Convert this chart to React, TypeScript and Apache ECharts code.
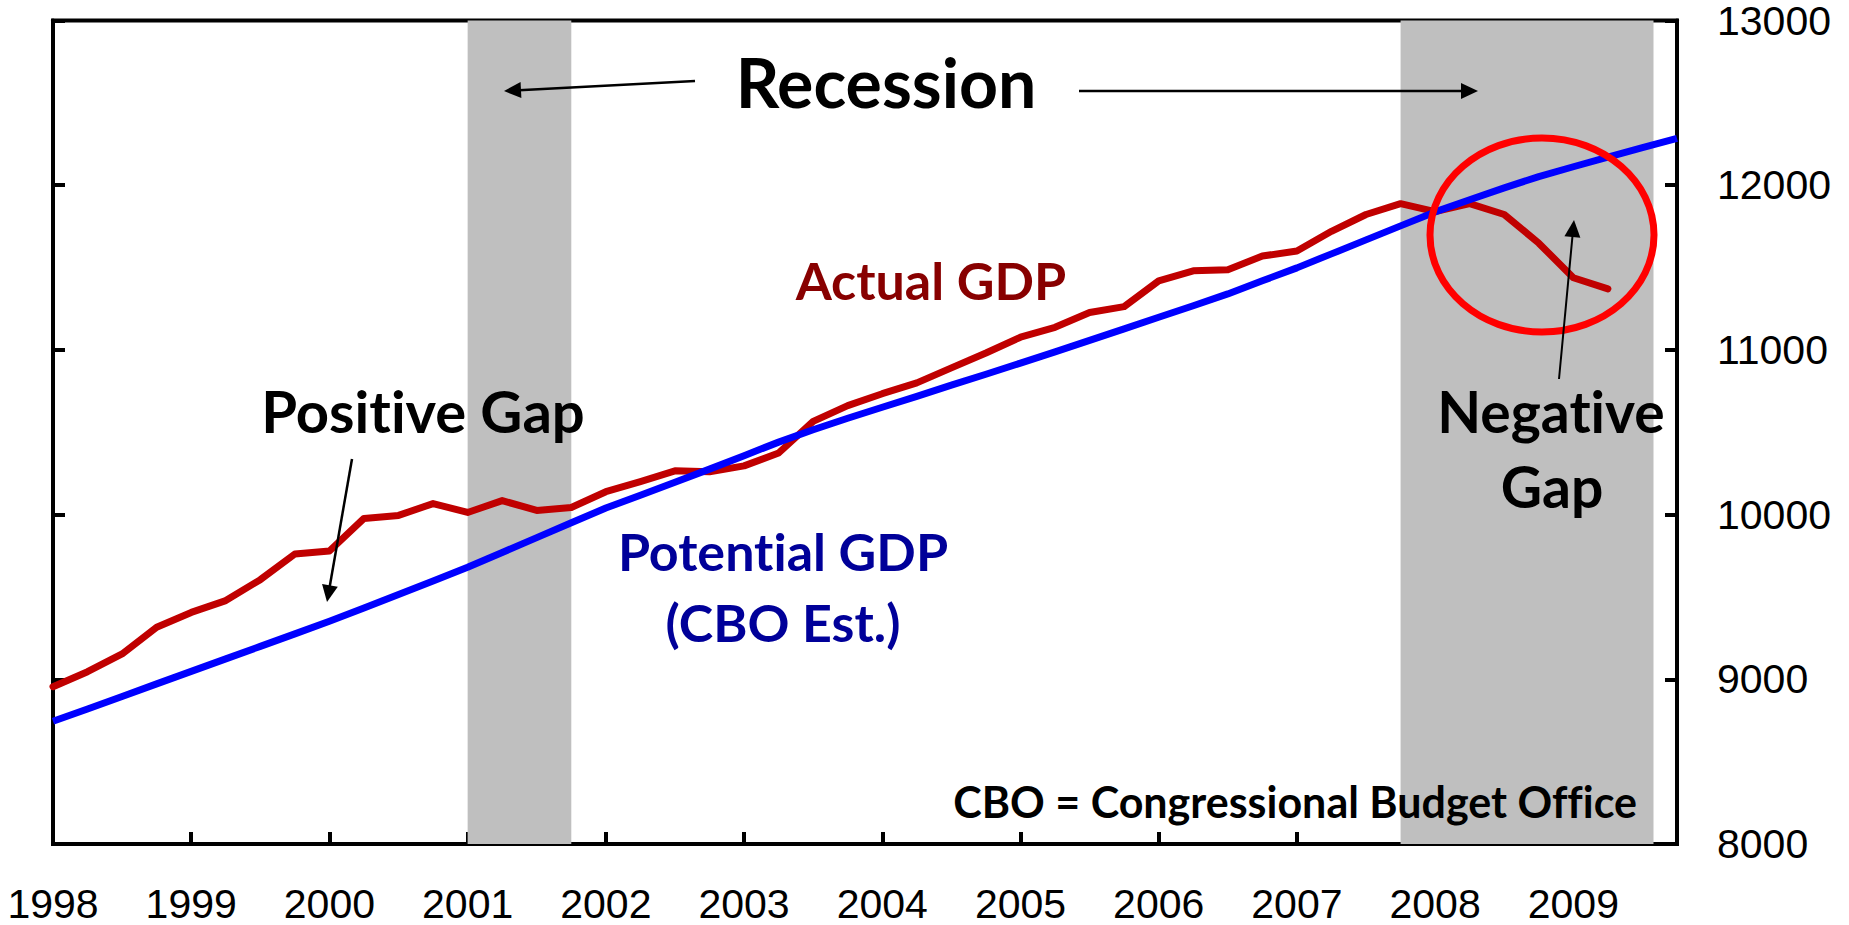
import React, { useEffect, useRef } from "react";
import * as echarts from "echarts";

// ---- Data ----
const quarters = [
  "1998Q1","1998Q2","1998Q3","1998Q4","1999Q1","1999Q2","1999Q3","1999Q4",
  "2000Q1","2000Q2","2000Q3","2000Q4","2001Q1","2001Q2","2001Q3","2001Q4",
  "2002Q1","2002Q2","2002Q3","2002Q4","2003Q1","2003Q2","2003Q3","2003Q4",
  "2004Q1","2004Q2","2004Q3","2004Q4","2005Q1","2005Q2","2005Q3","2005Q4",
  "2006Q1","2006Q2","2006Q3","2006Q4","2007Q1","2007Q2","2007Q3","2007Q4",
  "2008Q1","2008Q2","2008Q3","2008Q4","2009Q1","2009Q2","2009Q3","2009Q4",
];

const actualGDP = [
  8955, 9046, 9154, 9316, 9406, 9478, 9605, 9761,
  9779, 9977, 9995, 10067, 10013, 10085, 10025, 10043,
  10139, 10200, 10266, 10260, 10296, 10374, 10566, 10662,
  10734, 10800, 10891, 10981, 11077, 11137, 11227, 11263,
  11419, 11480, 11486, 11570, 11600, 11720, 11822, 11888,
  11840, 11888, 11822, 11648, 11438, 11371,
];

const potentialGDP = [
  8745, 8820, 8896, 8972, 9048, 9124, 9200, 9276,
  9352, 9433, 9515, 9597, 9680, 9770, 9860, 9950,
  10040, 10118, 10196, 10276, 10358, 10440, 10515, 10585,
  10652, 10718, 10786, 10852, 10920, 10988, 11058, 11128,
  11198, 11268, 11340, 11420, 11498, 11583, 11668, 11753,
  11838, 11912, 11984, 12052, 12112, 12170, 12228, 12285,
];

const recessions = [
  [2001.0, 2001.75],
  [2007.75, 2009.58],
];

const yearTicks = { min: 1998, max: 2009.75, interval: 1 };
const valueTicks = { min: 8000, max: 13000, interval: 1000 };

// quarter label -> decimal year position on the value axis
const qPos = (q: string) => Number(q.slice(0, 4)) + (Number(q.slice(5)) - 1) / 4;

const BOLD = "Lato";

function arrow(x1: number, y1: number, x2: number, y2: number, w = 2.5, head = 17, half = 8) {
  const dx = x2 - x1, dy = y2 - y1;
  const L = Math.hypot(dx, dy);
  const ux = dx / L, uy = dy / L;
  const bx = x2 - ux * head, by = y2 - uy * head;
  const px = -uy, py = ux;
  return [
    { type: "line", z: 100, shape: { x1, y1, x2: bx + ux * 2, y2: by + uy * 2 }, style: { stroke: "#000", lineWidth: w } },
    {
      type: "polygon", z: 100,
      shape: { points: [[x2, y2], [bx + px * half, by + py * half], [bx - px * half, by - py * half]] },
      style: { fill: "#000" },
    },
  ];
}

function label(text: string, x: number, y: number, size: number, color: string, align = "center") {
  return {
    type: "text", z: 100, x, y,
    style: { text, fill: color, font: `bold ${size}px ${BOLD}`, align, verticalAlign: "middle" },
  };
}

export default function App() {
  const ref = useRef<HTMLDivElement>(null);

  useEffect(() => {
    if (!ref.current) return;
    const chart = echarts.init(ref.current, null, { renderer: "svg" });
    const axisLine = { show: true, onZero: false, lineStyle: { color: "#000", width: 4 } };
    const tick = { show: true, inside: true, length: 12, lineStyle: { color: "#000", width: 4 } };
    const axisFont = { fontFamily: "Liberation Sans", fontSize: 41, color: "#000" };

    chart.setOption({
      animation: false,
      backgroundColor: "#fff",
      grid: { left: 53, right: 172, top: 12, bottom: 81, show: true, borderColor: "#000", borderWidth: 4, backgroundColor: "transparent" },
      xAxis: {
        type: "value", ...yearTicks,
        axisLine, axisTick: tick, splitLine: { show: false },
        axisLabel: { ...axisFont, margin: 39, showMaxLabel: false, formatter: (v: number) => (Number.isInteger(v) ? String(v) : "") },
      },
      yAxis: [
        { type: "value", position: "left", ...valueTicks, axisLine, axisTick: tick, axisLabel: { show: false }, splitLine: { show: false } },
        {
          type: "value", position: "right", ...valueTicks, axisLine, axisTick: tick, splitLine: { show: false },
          axisLabel: { ...axisFont, margin: 40, align: "left", formatter: (v: number) => String(v) },
        },
      ],
      series: [
        {
          type: "line", name: "bands", data: [], z: -1, silent: true,
          markArea: {
            silent: true,
            itemStyle: { color: "#BFBFBF" },
            data: recessions.map(([a, b]) => [{ xAxis: a }, { xAxis: b }]),
          },
        },
        {
          type: "line", name: "Actual GDP", symbol: "none", z: 3,
          lineStyle: { color: "#C00000", width: 7, cap: "round", join: "round" },
          data: actualGDP.map((v, i) => [qPos(quarters[i]), v]),
        },
        {
          type: "line", name: "Potential GDP", symbol: "none", z: 4,
          lineStyle: { color: "#0000FF", width: 7, cap: "butt", join: "round" },
          data: potentialGDP.map((v, i) => [qPos(quarters[i]), v]),
        },
      ],
      graphic: [
        { type: "ellipse", z: 90, shape: { cx: 1542, cy: 235, rx: 112, ry: 97 }, style: { stroke: "#FF0000", lineWidth: 7, fill: null } },
        ...arrow(695, 81, 504, 91),
        ...arrow(1079, 91, 1478, 91),
        ...arrow(352, 459, 327, 602),
        ...arrow(1559, 379, 1574, 220, 2),
        label("Recession", 886, 81, 68, "#000"),
        label("Actual GDP", 931, 280, 52, "#880000"),
        label("Positive Gap", 423, 410, 58, "#000"),
        label("Potential GDP", 783, 551, 52, "#000099"),
        label("(CBO Est.)", 783, 622, 52, "#000099"),
        label("Negative", 1551, 411, 57, "#000"),
        label("Gap", 1552, 486, 57, "#000"),
        label("CBO = Congressional Budget Office", 1637, 801, 43, "#000", "right"),
      ],
    });
    return () => chart.dispose();
  }, []);

  return (
    <>
      <style>{`svg text { font-variant-ligatures: none !important; font-feature-settings: "liga" 0, "clig" 0 !important; }`}</style>
      <div ref={ref} style={{ position: "fixed", left: 0, top: 0, width: 1849, height: 925 }} />
    </>
  );
}
